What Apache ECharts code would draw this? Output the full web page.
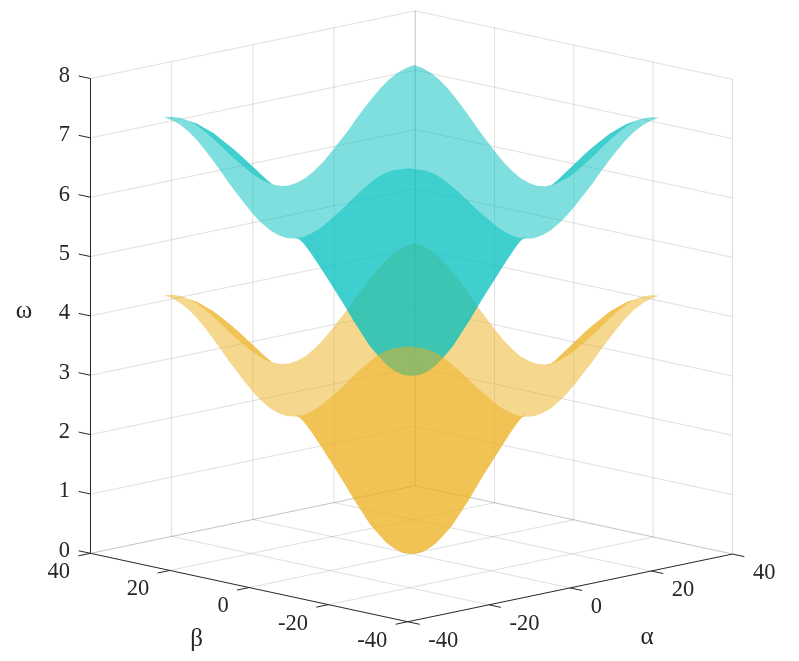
<!DOCTYPE html>
<html>
<head>
<meta charset="utf-8">
<style>html,body{margin:0;padding:0;background:#fff}#c{width:799px;height:661px}</style>
<script src="https://cdn.jsdelivr.net/npm/echarts@6/dist/echarts.min.js"></script>
</head>
<body>
<div id="c"></div>
<script>
var alphaTicks = [-40, -20, 0, 20, 40];
var betaTicks = [-40, -20, 0, 20, 40];
var omegaTicks = [0, 1, 2, 3, 4, 5, 6, 7, 8];
var gridAlpha = [-30.84,-28.78,-26.73,-24.67,-22.62,-20.56,-18.5,-16.45,-14.39,-12.34,-10.28,-8.22,-6.17,-4.11,-2.06,0,2.06,4.11,6.17,8.22,10.28,12.34,14.39,16.45,18.5,20.56,22.62,24.67,26.73,28.78,30.84];
var gridBeta = [-30.84,-28.78,-26.73,-24.67,-22.62,-20.56,-18.5,-16.45,-14.39,-12.34,-10.28,-8.22,-6.17,-4.11,-2.06,0,2.06,4.11,6.17,8.22,10.28,12.34,14.39,16.45,18.5,20.56,22.62,24.67,26.73,28.78,30.84];
var omegaLower = [
[4.35,4.33,4.28,4.20,4.09,3.95,3.80,3.64,3.47,3.32,3.17,3.03,2.92,2.83,2.78,2.76,2.78,2.83,2.92,3.03,3.17,3.32,3.47,3.64,3.80,3.95,4.09,4.20,4.28,4.33,4.35],
[4.33,4.32,4.26,4.18,4.07,3.93,3.78,3.62,3.46,3.30,3.15,3.01,2.90,2.81,2.76,2.74,2.76,2.81,2.90,3.01,3.15,3.30,3.46,3.62,3.78,3.93,4.07,4.18,4.26,4.32,4.33],
[4.28,4.26,4.21,4.13,4.02,3.88,3.73,3.57,3.41,3.25,3.10,2.96,2.85,2.76,2.69,2.67,2.69,2.76,2.85,2.96,3.10,3.25,3.41,3.57,3.73,3.88,4.02,4.13,4.21,4.26,4.28],
[4.20,4.18,4.13,4.04,3.93,3.80,3.65,3.49,3.33,3.17,3.01,2.88,2.76,2.65,2.58,2.56,2.58,2.65,2.76,2.88,3.01,3.17,3.33,3.49,3.65,3.80,3.93,4.04,4.13,4.18,4.20],
[4.09,4.07,4.02,3.93,3.82,3.69,3.54,3.38,3.22,3.06,2.90,2.76,2.61,2.50,2.44,2.41,2.44,2.50,2.61,2.76,2.90,3.06,3.22,3.38,3.54,3.69,3.82,3.93,4.02,4.07,4.09],
[3.95,3.93,3.88,3.80,3.69,3.56,3.41,3.25,3.09,2.92,2.76,2.58,2.44,2.32,2.24,2.22,2.24,2.32,2.44,2.58,2.76,2.92,3.09,3.25,3.41,3.56,3.69,3.80,3.88,3.93,3.95],
[3.80,3.78,3.73,3.65,3.54,3.41,3.26,3.10,2.93,2.76,2.56,2.38,2.22,2.10,2.03,2.01,2.03,2.10,2.22,2.38,2.56,2.76,2.93,3.10,3.26,3.41,3.54,3.65,3.73,3.78,3.80],
[3.64,3.62,3.57,3.49,3.38,3.25,3.10,2.93,2.76,2.55,2.34,2.15,1.99,1.87,1.79,1.77,1.79,1.87,1.99,2.15,2.34,2.55,2.76,2.93,3.10,3.25,3.38,3.49,3.57,3.62,3.64],
[3.47,3.46,3.41,3.33,3.22,3.09,2.93,2.76,2.54,2.32,2.10,1.91,1.74,1.61,1.53,1.51,1.53,1.61,1.74,1.91,2.10,2.32,2.54,2.76,2.93,3.09,3.22,3.33,3.41,3.46,3.47],
[3.32,3.30,3.25,3.17,3.06,2.92,2.76,2.55,2.32,2.09,1.87,1.66,1.49,1.35,1.26,1.22,1.26,1.35,1.49,1.66,1.87,2.09,2.32,2.55,2.76,2.92,3.06,3.17,3.25,3.30,3.32],
[3.17,3.15,3.10,3.01,2.90,2.76,2.56,2.34,2.10,1.87,1.64,1.42,1.22,1.06,0.95,0.91,0.95,1.06,1.22,1.42,1.64,1.87,2.10,2.34,2.56,2.76,2.90,3.01,3.10,3.15,3.17],
[3.03,3.01,2.96,2.88,2.76,2.58,2.38,2.15,1.91,1.66,1.42,1.18,0.95,0.77,0.66,0.62,0.66,0.77,0.95,1.18,1.42,1.66,1.91,2.15,2.38,2.58,2.76,2.88,2.96,3.01,3.03],
[2.92,2.90,2.85,2.76,2.61,2.44,2.22,1.99,1.74,1.49,1.22,0.95,0.71,0.52,0.40,0.36,0.40,0.52,0.71,0.95,1.22,1.49,1.74,1.99,2.22,2.44,2.61,2.76,2.85,2.90,2.92],
[2.83,2.81,2.76,2.65,2.50,2.32,2.10,1.87,1.61,1.35,1.06,0.77,0.52,0.33,0.21,0.16,0.21,0.33,0.52,0.77,1.06,1.35,1.61,1.87,2.10,2.32,2.50,2.65,2.76,2.81,2.83],
[2.78,2.76,2.69,2.58,2.44,2.24,2.03,1.79,1.53,1.26,0.95,0.66,0.40,0.21,0.08,0.04,0.08,0.21,0.40,0.66,0.95,1.26,1.53,1.79,2.03,2.24,2.44,2.58,2.69,2.76,2.78],
[2.76,2.74,2.67,2.56,2.41,2.22,2.01,1.77,1.51,1.22,0.91,0.62,0.36,0.16,0.04,0.00,0.04,0.16,0.36,0.62,0.91,1.22,1.51,1.77,2.01,2.22,2.41,2.56,2.67,2.74,2.76],
[2.78,2.76,2.69,2.58,2.44,2.24,2.03,1.79,1.53,1.26,0.95,0.66,0.40,0.21,0.08,0.04,0.08,0.21,0.40,0.66,0.95,1.26,1.53,1.79,2.03,2.24,2.44,2.58,2.69,2.76,2.78],
[2.83,2.81,2.76,2.65,2.50,2.32,2.10,1.87,1.61,1.35,1.06,0.77,0.52,0.33,0.21,0.16,0.21,0.33,0.52,0.77,1.06,1.35,1.61,1.87,2.10,2.32,2.50,2.65,2.76,2.81,2.83],
[2.92,2.90,2.85,2.76,2.61,2.44,2.22,1.99,1.74,1.49,1.22,0.95,0.71,0.52,0.40,0.36,0.40,0.52,0.71,0.95,1.22,1.49,1.74,1.99,2.22,2.44,2.61,2.76,2.85,2.90,2.92],
[3.03,3.01,2.96,2.88,2.76,2.58,2.38,2.15,1.91,1.66,1.42,1.18,0.95,0.77,0.66,0.62,0.66,0.77,0.95,1.18,1.42,1.66,1.91,2.15,2.38,2.58,2.76,2.88,2.96,3.01,3.03],
[3.17,3.15,3.10,3.01,2.90,2.76,2.56,2.34,2.10,1.87,1.64,1.42,1.22,1.06,0.95,0.91,0.95,1.06,1.22,1.42,1.64,1.87,2.10,2.34,2.56,2.76,2.90,3.01,3.10,3.15,3.17],
[3.32,3.30,3.25,3.17,3.06,2.92,2.76,2.55,2.32,2.09,1.87,1.66,1.49,1.35,1.26,1.22,1.26,1.35,1.49,1.66,1.87,2.09,2.32,2.55,2.76,2.92,3.06,3.17,3.25,3.30,3.32],
[3.47,3.46,3.41,3.33,3.22,3.09,2.93,2.76,2.54,2.32,2.10,1.91,1.74,1.61,1.53,1.51,1.53,1.61,1.74,1.91,2.10,2.32,2.54,2.76,2.93,3.09,3.22,3.33,3.41,3.46,3.47],
[3.64,3.62,3.57,3.49,3.38,3.25,3.10,2.93,2.76,2.55,2.34,2.15,1.99,1.87,1.79,1.77,1.79,1.87,1.99,2.15,2.34,2.55,2.76,2.93,3.10,3.25,3.38,3.49,3.57,3.62,3.64],
[3.80,3.78,3.73,3.65,3.54,3.41,3.26,3.10,2.93,2.76,2.56,2.38,2.22,2.10,2.03,2.01,2.03,2.10,2.22,2.38,2.56,2.76,2.93,3.10,3.26,3.41,3.54,3.65,3.73,3.78,3.80],
[3.95,3.93,3.88,3.80,3.69,3.56,3.41,3.25,3.09,2.92,2.76,2.58,2.44,2.32,2.24,2.22,2.24,2.32,2.44,2.58,2.76,2.92,3.09,3.25,3.41,3.56,3.69,3.80,3.88,3.93,3.95],
[4.09,4.07,4.02,3.93,3.82,3.69,3.54,3.38,3.22,3.06,2.90,2.76,2.61,2.50,2.44,2.41,2.44,2.50,2.61,2.76,2.90,3.06,3.22,3.38,3.54,3.69,3.82,3.93,4.02,4.07,4.09],
[4.20,4.18,4.13,4.04,3.93,3.80,3.65,3.49,3.33,3.17,3.01,2.88,2.76,2.65,2.58,2.56,2.58,2.65,2.76,2.88,3.01,3.17,3.33,3.49,3.65,3.80,3.93,4.04,4.13,4.18,4.20],
[4.28,4.26,4.21,4.13,4.02,3.88,3.73,3.57,3.41,3.25,3.10,2.96,2.85,2.76,2.69,2.67,2.69,2.76,2.85,2.96,3.10,3.25,3.41,3.57,3.73,3.88,4.02,4.13,4.21,4.26,4.28],
[4.33,4.32,4.26,4.18,4.07,3.93,3.78,3.62,3.46,3.30,3.15,3.01,2.90,2.81,2.76,2.74,2.76,2.81,2.90,3.01,3.15,3.30,3.46,3.62,3.78,3.93,4.07,4.18,4.26,4.32,4.33],
[4.35,4.33,4.28,4.20,4.09,3.95,3.80,3.64,3.47,3.32,3.17,3.03,2.92,2.83,2.78,2.76,2.78,2.83,2.92,3.03,3.17,3.32,3.47,3.64,3.80,3.95,4.09,4.20,4.28,4.33,4.35]
];
var omegaUpper = [
[7.35,7.33,7.28,7.20,7.09,6.95,6.80,6.64,6.47,6.32,6.17,6.03,5.92,5.83,5.78,5.76,5.78,5.83,5.92,6.03,6.17,6.32,6.47,6.64,6.80,6.95,7.09,7.20,7.28,7.33,7.35],
[7.33,7.32,7.26,7.18,7.07,6.93,6.78,6.62,6.46,6.30,6.15,6.01,5.90,5.81,5.76,5.74,5.76,5.81,5.90,6.01,6.15,6.30,6.46,6.62,6.78,6.93,7.07,7.18,7.26,7.32,7.33],
[7.28,7.26,7.21,7.13,7.02,6.88,6.73,6.57,6.41,6.25,6.10,5.96,5.85,5.76,5.69,5.67,5.69,5.76,5.85,5.96,6.10,6.25,6.41,6.57,6.73,6.88,7.02,7.13,7.21,7.26,7.28],
[7.20,7.18,7.13,7.04,6.93,6.80,6.65,6.49,6.33,6.17,6.01,5.88,5.76,5.65,5.58,5.56,5.58,5.65,5.76,5.88,6.01,6.17,6.33,6.49,6.65,6.80,6.93,7.04,7.13,7.18,7.20],
[7.09,7.07,7.02,6.93,6.82,6.69,6.54,6.38,6.22,6.06,5.90,5.76,5.61,5.50,5.44,5.41,5.44,5.50,5.61,5.76,5.90,6.06,6.22,6.38,6.54,6.69,6.82,6.93,7.02,7.07,7.09],
[6.95,6.93,6.88,6.80,6.69,6.56,6.41,6.25,6.09,5.92,5.76,5.58,5.44,5.32,5.24,5.22,5.24,5.32,5.44,5.58,5.76,5.92,6.09,6.25,6.41,6.56,6.69,6.80,6.88,6.93,6.95],
[6.80,6.78,6.73,6.65,6.54,6.41,6.26,6.10,5.93,5.76,5.56,5.38,5.22,5.10,5.03,5.01,5.03,5.10,5.22,5.38,5.56,5.76,5.93,6.10,6.26,6.41,6.54,6.65,6.73,6.78,6.80],
[6.64,6.62,6.57,6.49,6.38,6.25,6.10,5.93,5.76,5.55,5.34,5.15,4.99,4.87,4.79,4.77,4.79,4.87,4.99,5.15,5.34,5.55,5.76,5.93,6.10,6.25,6.38,6.49,6.57,6.62,6.64],
[6.47,6.46,6.41,6.33,6.22,6.09,5.93,5.76,5.54,5.32,5.10,4.91,4.74,4.61,4.53,4.51,4.53,4.61,4.74,4.91,5.10,5.32,5.54,5.76,5.93,6.09,6.22,6.33,6.41,6.46,6.47],
[6.32,6.30,6.25,6.17,6.06,5.92,5.76,5.55,5.32,5.09,4.87,4.66,4.49,4.35,4.26,4.22,4.26,4.35,4.49,4.66,4.87,5.09,5.32,5.55,5.76,5.92,6.06,6.17,6.25,6.30,6.32],
[6.17,6.15,6.10,6.01,5.90,5.76,5.56,5.34,5.10,4.87,4.64,4.42,4.22,4.06,3.95,3.91,3.95,4.06,4.22,4.42,4.64,4.87,5.10,5.34,5.56,5.76,5.90,6.01,6.10,6.15,6.17],
[6.03,6.01,5.96,5.88,5.76,5.58,5.38,5.15,4.91,4.66,4.42,4.18,3.95,3.77,3.66,3.62,3.66,3.77,3.95,4.18,4.42,4.66,4.91,5.15,5.38,5.58,5.76,5.88,5.96,6.01,6.03],
[5.92,5.90,5.85,5.76,5.61,5.44,5.22,4.99,4.74,4.49,4.22,3.95,3.71,3.52,3.40,3.36,3.40,3.52,3.71,3.95,4.22,4.49,4.74,4.99,5.22,5.44,5.61,5.76,5.85,5.90,5.92],
[5.83,5.81,5.76,5.65,5.50,5.32,5.10,4.87,4.61,4.35,4.06,3.77,3.52,3.33,3.21,3.16,3.21,3.33,3.52,3.77,4.06,4.35,4.61,4.87,5.10,5.32,5.50,5.65,5.76,5.81,5.83],
[5.78,5.76,5.69,5.58,5.44,5.24,5.03,4.79,4.53,4.26,3.95,3.66,3.40,3.21,3.08,3.04,3.08,3.21,3.40,3.66,3.95,4.26,4.53,4.79,5.03,5.24,5.44,5.58,5.69,5.76,5.78],
[5.76,5.74,5.67,5.56,5.41,5.22,5.01,4.77,4.51,4.22,3.91,3.62,3.36,3.16,3.04,3.00,3.04,3.16,3.36,3.62,3.91,4.22,4.51,4.77,5.01,5.22,5.41,5.56,5.67,5.74,5.76],
[5.78,5.76,5.69,5.58,5.44,5.24,5.03,4.79,4.53,4.26,3.95,3.66,3.40,3.21,3.08,3.04,3.08,3.21,3.40,3.66,3.95,4.26,4.53,4.79,5.03,5.24,5.44,5.58,5.69,5.76,5.78],
[5.83,5.81,5.76,5.65,5.50,5.32,5.10,4.87,4.61,4.35,4.06,3.77,3.52,3.33,3.21,3.16,3.21,3.33,3.52,3.77,4.06,4.35,4.61,4.87,5.10,5.32,5.50,5.65,5.76,5.81,5.83],
[5.92,5.90,5.85,5.76,5.61,5.44,5.22,4.99,4.74,4.49,4.22,3.95,3.71,3.52,3.40,3.36,3.40,3.52,3.71,3.95,4.22,4.49,4.74,4.99,5.22,5.44,5.61,5.76,5.85,5.90,5.92],
[6.03,6.01,5.96,5.88,5.76,5.58,5.38,5.15,4.91,4.66,4.42,4.18,3.95,3.77,3.66,3.62,3.66,3.77,3.95,4.18,4.42,4.66,4.91,5.15,5.38,5.58,5.76,5.88,5.96,6.01,6.03],
[6.17,6.15,6.10,6.01,5.90,5.76,5.56,5.34,5.10,4.87,4.64,4.42,4.22,4.06,3.95,3.91,3.95,4.06,4.22,4.42,4.64,4.87,5.10,5.34,5.56,5.76,5.90,6.01,6.10,6.15,6.17],
[6.32,6.30,6.25,6.17,6.06,5.92,5.76,5.55,5.32,5.09,4.87,4.66,4.49,4.35,4.26,4.22,4.26,4.35,4.49,4.66,4.87,5.09,5.32,5.55,5.76,5.92,6.06,6.17,6.25,6.30,6.32],
[6.47,6.46,6.41,6.33,6.22,6.09,5.93,5.76,5.54,5.32,5.10,4.91,4.74,4.61,4.53,4.51,4.53,4.61,4.74,4.91,5.10,5.32,5.54,5.76,5.93,6.09,6.22,6.33,6.41,6.46,6.47],
[6.64,6.62,6.57,6.49,6.38,6.25,6.10,5.93,5.76,5.55,5.34,5.15,4.99,4.87,4.79,4.77,4.79,4.87,4.99,5.15,5.34,5.55,5.76,5.93,6.10,6.25,6.38,6.49,6.57,6.62,6.64],
[6.80,6.78,6.73,6.65,6.54,6.41,6.26,6.10,5.93,5.76,5.56,5.38,5.22,5.10,5.03,5.01,5.03,5.10,5.22,5.38,5.56,5.76,5.93,6.10,6.26,6.41,6.54,6.65,6.73,6.78,6.80],
[6.95,6.93,6.88,6.80,6.69,6.56,6.41,6.25,6.09,5.92,5.76,5.58,5.44,5.32,5.24,5.22,5.24,5.32,5.44,5.58,5.76,5.92,6.09,6.25,6.41,6.56,6.69,6.80,6.88,6.93,6.95],
[7.09,7.07,7.02,6.93,6.82,6.69,6.54,6.38,6.22,6.06,5.90,5.76,5.61,5.50,5.44,5.41,5.44,5.50,5.61,5.76,5.90,6.06,6.22,6.38,6.54,6.69,6.82,6.93,7.02,7.07,7.09],
[7.20,7.18,7.13,7.04,6.93,6.80,6.65,6.49,6.33,6.17,6.01,5.88,5.76,5.65,5.58,5.56,5.58,5.65,5.76,5.88,6.01,6.17,6.33,6.49,6.65,6.80,6.93,7.04,7.13,7.18,7.20],
[7.28,7.26,7.21,7.13,7.02,6.88,6.73,6.57,6.41,6.25,6.10,5.96,5.85,5.76,5.69,5.67,5.69,5.76,5.85,5.96,6.10,6.25,6.41,6.57,6.73,6.88,7.02,7.13,7.21,7.26,7.28],
[7.33,7.32,7.26,7.18,7.07,6.93,6.78,6.62,6.46,6.30,6.15,6.01,5.90,5.81,5.76,5.74,5.76,5.81,5.90,6.01,6.15,6.30,6.46,6.62,6.78,6.93,7.07,7.18,7.26,7.32,7.33],
[7.35,7.33,7.28,7.20,7.09,6.95,6.80,6.64,6.47,6.32,6.17,6.03,5.92,5.83,5.78,5.76,5.78,5.83,5.92,6.03,6.17,6.32,6.47,6.64,6.80,6.95,7.09,7.20,7.28,7.33,7.35]
];

// Orthographic view: (alpha, beta, omega) to the plane of a hidden 2D cartesian grid
function project(a, b, w) {
  return [411.5 + 4.059 * a - 3.966 * b, 553.7 - 0.846 * a - 0.855 * b - 59.35 * w];
}

var FONT = 'Liberation Serif';
var INK = '#262626';
var GRID = 'rgba(38,38,38,0.15)';

function lineEl(api, p, q, color, width) {
  var s = api.coord(project(p[0], p[1], p[2]));
  var e = api.coord(project(q[0], q[1], q[2]));
  return {type: 'line', shape: {x1: s[0], y1: s[1], x2: e[0], y2: e[1]},
    style: {stroke: color, lineWidth: width, fill: null}, silent: true};
}
function textEl(pos, str, size, align) {
  return {type: 'text', silent: true, style: {x: pos[0], y: pos[1], text: str, fill: INK,
    fontSize: size, fontFamily: FONT, textAlign: align, textVerticalAlign: 'middle'}};
}

function renderGrid(params, api) {
  var ch = [];
  alphaTicks.forEach(function (a) {
    if (a > -40) ch.push(lineEl(api, [a, 40, 0], [a, 40, 8], GRID, 1));
    if (a > -40) ch.push(lineEl(api, [a, -40, 0], [a, 40, 0], GRID, 1));
  });
  betaTicks.forEach(function (b) {
    ch.push(lineEl(api, [40, b, 0], [40, b, 8], GRID, 1));
    if (b > -40) ch.push(lineEl(api, [-40, b, 0], [40, b, 0], GRID, 1));
  });
  omegaTicks.forEach(function (w) {
    ch.push(lineEl(api, [-40, 40, w], [40, 40, w], GRID, 1));
    ch.push(lineEl(api, [40, -40, w], [40, 40, w], GRID, 1));
  });
  return {type: 'group', children: ch};
}

function renderAxes(params, api) {
  var ch = [];
  ch.push(lineEl(api, [-40, 40, 0], [-40, 40, 8], INK, 1));
  ch.push(lineEl(api, [-40, -40, 0], [40, -40, 0], INK, 1));
  ch.push(lineEl(api, [-40, -40, 0], [-40, 40, 0], INK, 1));
  alphaTicks.forEach(function (a) {
    ch.push(lineEl(api, [a, -40, 0], [a, -43, 0], INK, 1));
    var c = api.coord(project(a, -40, 0));
    ch.push(textEl([c[0] + 20.5, c[1] + 19], String(a), 22.5, 'left'));
  });
  betaTicks.forEach(function (b) {
    ch.push(lineEl(api, [-40, b, 0], [-43, b, 0], INK, 1));
    var c = api.coord(project(-40, b, 0));
    ch.push(textEl([c[0] - 20.5, c[1] + 19], String(b), 22.5, 'right'));
  });
  omegaTicks.forEach(function (w) {
    ch.push(lineEl(api, [-40, 40, w], [-40, 43, w], INK, 1));
    var c = api.coord(project(-40, 40, w));
    ch.push(textEl([c[0] - 20.5, c[1] - 2.5], String(w), 22.5, 'right'));
  });
  ch.push(textEl(api.coord([24, 311]), 'ω', 25, 'center'));
  ch.push(textEl(api.coord([196.5, 639]), 'β', 25, 'center'));
  ch.push(textEl(api.coord([647, 637]), 'α', 25, 'center'));
  return {type: 'group', children: ch};
}

// One compound path for each facing of a sheet, so facets sharing an edge leave no seam.
function sheetPath(api, table, facing) {
  var d = [];
  var pt = table.map(function (row, j) {
    return row.map(function (w, i) { return api.coord(project(gridAlpha[i], gridBeta[j], w)); });
  });
  function tri(p, q, r) {
    var area = (q[0] - p[0]) * (r[1] - p[1]) - (q[1] - p[1]) * (r[0] - p[0]);
    if (area === 0 || (area < 0) !== (facing < 0)) return;
    d.push('M' + p[0].toFixed(2) + ' ' + p[1].toFixed(2) + 'L' + q[0].toFixed(2) + ' ' + q[1].toFixed(2) +
      'L' + r[0].toFixed(2) + ' ' + r[1].toFixed(2) + 'Z');
  }
  for (var j = 0; j < pt.length - 1; j++) {
    for (var i = 0; i < pt[j].length - 1; i++) {
      tri(pt[j][i], pt[j][i + 1], pt[j + 1][i]);
      tri(pt[j][i + 1], pt[j + 1][i + 1], pt[j + 1][i]);
    }
  }
  return d.join('');
}
function surface(table, facing, color, z) {
  return {
    type: 'custom', coordinateSystem: 'cartesian2d', silent: true, clip: false, z: z,
    data: [[0, 0]],
    renderItem: function (params, api) {
      return {type: 'path', silent: true, shape: {pathData: sheetPath(api, table, facing)},
        style: {fill: color, opacity: 0.5, stroke: null}};
    }
  };
}

var chart = echarts.init(document.getElementById('c'), null, {renderer: 'canvas'});
chart.setOption({
  animation: false,
  backgroundColor: '#ffffff',
  tooltip: {show: false},
  grid: {left: 0, right: 0, top: 0, bottom: 0},
  xAxis: {type: 'value', min: 0, max: 799, show: false},
  yAxis: {type: 'value', min: 0, max: 661, inverse: true, show: false},
  series: [
    {type: 'custom', coordinateSystem: 'cartesian2d', silent: true, clip: false, z: 1, data: [[0, 0]], renderItem: renderGrid},
    surface(omegaLower, -1, 'rgb(235,175,27)', 2),
    surface(omegaUpper, -1, 'rgb(0,191,191)', 3),
    surface(omegaUpper, 1, 'rgb(0,191,191)', 4),
    surface(omegaLower, 1, 'rgb(235,175,27)', 5),
    {type: 'custom', coordinateSystem: 'cartesian2d', silent: true, clip: false, z: 6, data: [[0, 0]], renderItem: renderAxes}
  ]
});
</script>
</body>
</html>
